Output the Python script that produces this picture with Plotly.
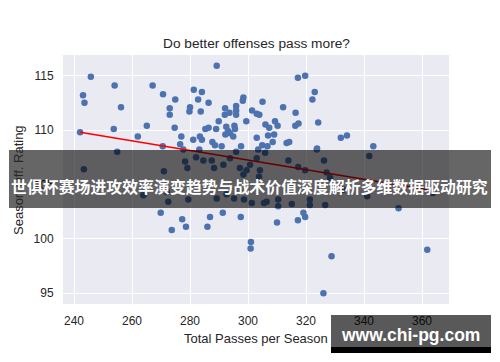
import plotly.graph_objects as go

# ---- data ----
passes = [245.8, 243.1, 243.6, 254.0, 256.2, 242.1, 253.7, 262.0, 265.1, 267.1,
          270.7, 274.9, 273.0, 273.0, 274.7, 277.0, 276.6, 277.7, 270.6, 254.9,
          243.4, 289.2, 317.2, 319.7, 323.0, 322.2, 281.3, 284.1, 282.8, 286.4,
          280.0, 279.8, 283.7, 298.4, 298.2, 295.9, 295.9, 295.9, 292.1, 293.6,
          292.0, 305.0, 301.4, 303.0, 303.9, 312.1, 316.4, 299.4, 289.9, 289.0,
          292.5, 293.1, 292.2, 293.8, 295.3, 295.5, 294.9, 285.3, 286.4, 306.0,
          307.3, 309.3, 310.2, 316.3, 317.4, 324.2, 332.0, 334.1, 323.8, 303.0,
          306.9, 309.0, 304.9, 306.7, 308.5, 313.3, 314.2, 281.1, 284.1, 283.4,
          287.7, 288.6, 290.9, 297.6, 283.2, 343.2, 341.8, 326.2, 327.1, 282.1,
          284.6, 287.5, 278.3, 279.1, 288.3, 291.5, 293.8, 295.9, 297.2, 299.5,
          300.7, 303.0, 298.4, 303.5, 305.9, 313.9, 317.3, 319.7, 323.7, 304.1,
          303.8, 271.0, 263.9, 272.5, 272.0, 279.4, 289.2, 292.6, 295.2, 298.6,
          301.3, 305.5, 310.4, 310.4, 315.1, 321.3, 321.3, 341.1, 351.9, 363.7,
          328.3, 332.9, 306.4, 326.6, 269.9, 277.3, 278.6, 273.7, 286.9, 286.0,
          291.3, 297.5, 301.0, 300.9, 310.0, 317.2, 319.7, 319.1, 328.8, 326.0,
          361.8]
off_rating = [114.9, 113.2, 112.5, 114.1, 112.1, 109.8, 110.1, 109.4, 110.4, 114.1,
              113.3, 112.8, 112.0, 111.4, 110.2, 109.4, 108.7, 108.2, 108.5, 108.0,
              106.4, 115.9, 114.8, 115.0, 113.5, 112.8, 113.7, 113.5, 112.8, 112.5,
              112.1, 111.7, 111.7, 113.0, 112.7, 112.2, 111.8, 111.4, 112.0, 111.6,
              111.4, 112.6, 111.8, 111.5, 111.4, 112.1, 111.6, 110.8, 110.8, 110.1,
              110.3, 109.9, 109.6, 109.7, 110.4, 110.1, 109.4, 110.1, 110.2, 110.5,
              110.2, 110.8, 110.4, 110.4, 110.6, 110.7, 109.3, 109.5, 108.3, 109.3,
              109.5, 109.6, 108.6, 108.5, 108.9, 108.8, 108.9, 109.1, 109.1, 109.4,
              108.9, 108.6, 108.5, 108.5, 108.2, 108.5, 107.6, 107.2, 106.1, 107.5,
              107.2, 107.2, 107.1, 106.5, 106.5, 106.8, 107.4, 108.0, 106.5, 106.3,
              106.8, 107.4, 105.9, 108.2, 107.9, 107.2, 106.6, 106.3, 108.2, 106.3,
              105.7, 106.2, 104.0, 103.4, 104.3, 103.6, 103.7, 104.1, 103.7, 103.6,
              103.3, 103.3, 103.6, 103.0, 103.2, 103.6, 103.1, 103.9, 102.8, 104.2,
              105.6, 104.5, 103.4, 103.1, 102.4, 101.8, 101.1, 100.8, 102.0, 101.1,
              102.4, 102.0, 99.7, 99.1, 101.5, 101.7, 102.0, 102.4, 98.4, 95.0,
              99.0]
trend_x = [242.1, 361.8]
trend_y = [109.8, 104.5]
x_ticks = [240, 260, 280, 300, 320, 340, 360]
y_ticks = [95, 100, 105, 110, 115]

title_text = "Do better offenses pass more?"
x_title = "Total Passes per Season"
y_title = "Season Off. Rating"
banner_text = "世俱杯赛场进攻效率演变趋势与战术价值深度解析多维数据驱动研究"
mark_text = "www.chi-pg.com"

# ---- layout geometry ----
# The page body has an 8px margin, so the figure is drawn 8px in from the
# window's top-left corner. Geometry below is expressed in window pixels.
OFF = 8
WIN_W, WIN_H = 500, 362
PLOT_L, PLOT_R, PLOT_T, PLOT_B = 63, 449, 55, 304   # plot area in window px
W, H = WIN_W - OFF, WIN_H - OFF
L, T = PLOT_L - OFF, PLOT_T - OFF
PW, PH = PLOT_R - PLOT_L, PLOT_B - PLOT_T
R, B = W - L - PW, H - T - PH


def px_x(p):
    return (p - PLOT_L) / PW


def px_y(p):
    return (PLOT_B - p) / PH


FONT = "Liberation Sans, Arial, sans-serif"
TXT = "#262626"

fig = go.Figure()
fig.add_trace(go.Scatter(
    x=passes, y=off_rating, mode="markers",
    marker=dict(color="#4C72B0", size=6.5, line=dict(width=0)),
    showlegend=False, hoverinfo="skip"))
fig.add_trace(go.Scatter(
    x=trend_x, y=trend_y, mode="lines",
    line=dict(color="#ff0000", width=1.6),
    showlegend=False, hoverinfo="skip"))

axis_common = dict(
    showgrid=True, gridcolor="white", gridwidth=1.2, zeroline=False,
    showline=False, ticks="outside", ticklen=6, tickcolor="rgba(0,0,0,0)",
    tickfont=dict(family=FONT, size=12, color=TXT),
)
fig.update_xaxes(range=[236.2, 369.3], tickvals=x_ticks, **axis_common)
fig.update_yaxes(range=[94.0, 116.9], tickvals=y_ticks, **axis_common)

shapes = [
    # banner
    dict(type="rect", xref="paper", yref="paper",
         x0=px_x(9), x1=px_x(491), y0=px_y(208), y1=px_y(150),
         fillcolor="rgba(0,0,0,0.6)", line=dict(width=0), layer="above"),
    # watermark box
    dict(type="rect", xref="paper", yref="paper",
         x0=px_x(331), x1=px_x(491), y0=px_y(347), y1=px_y(315),
         fillcolor="rgba(0,0,0,0.65)", line=dict(width=0), layer="above"),
    dict(type="rect", xref="paper", yref="paper",
         x0=px_x(331), x1=px_x(491), y0=px_y(353), y1=px_y(347),
         fillcolor="rgba(0,0,0,1)", line=dict(width=0), layer="above"),
]

annotations = [
    dict(text=title_text, xref="paper", yref="paper", x=px_x(256), y=px_y(43),
         showarrow=False, xanchor="center", yanchor="middle",
         font=dict(family=FONT, size=13.7, color=TXT)),
    dict(text=x_title, xref="paper", yref="paper", x=px_x(256), y=px_y(338),
         showarrow=False, xanchor="center", yanchor="middle",
         font=dict(family=FONT, size=13, color=TXT)),
    dict(text=y_title, xref="paper", yref="paper", x=px_x(18), y=px_y(180),
         showarrow=False, xanchor="center", yanchor="middle", textangle=-90,
         font=dict(family=FONT, size=13, color=TXT)),
    dict(text="<b>" + banner_text + "</b>", xref="paper", yref="paper",
         x=px_x(249), y=px_y(186), showarrow=False, xanchor="center", yanchor="middle",
         font=dict(family="Noto Sans CJK SC, sans-serif", size=15.9, color="white")),
    dict(text="<b>" + mark_text + "</b>", xref="paper", yref="paper",
         x=px_x(410), y=px_y(335), showarrow=False, xanchor="center", yanchor="middle",
         font=dict(family="Liberation Sans, Arial, sans-serif", size=17.5, color="white")),
]

fig.update_layout(
    width=W, height=H, margin=dict(l=L, r=R, t=T, b=B, pad=0),
    paper_bgcolor="white", plot_bgcolor="#EAEAF2",
    shapes=shapes, annotations=annotations, showlegend=False,
)

fig.write_html("out.html")
